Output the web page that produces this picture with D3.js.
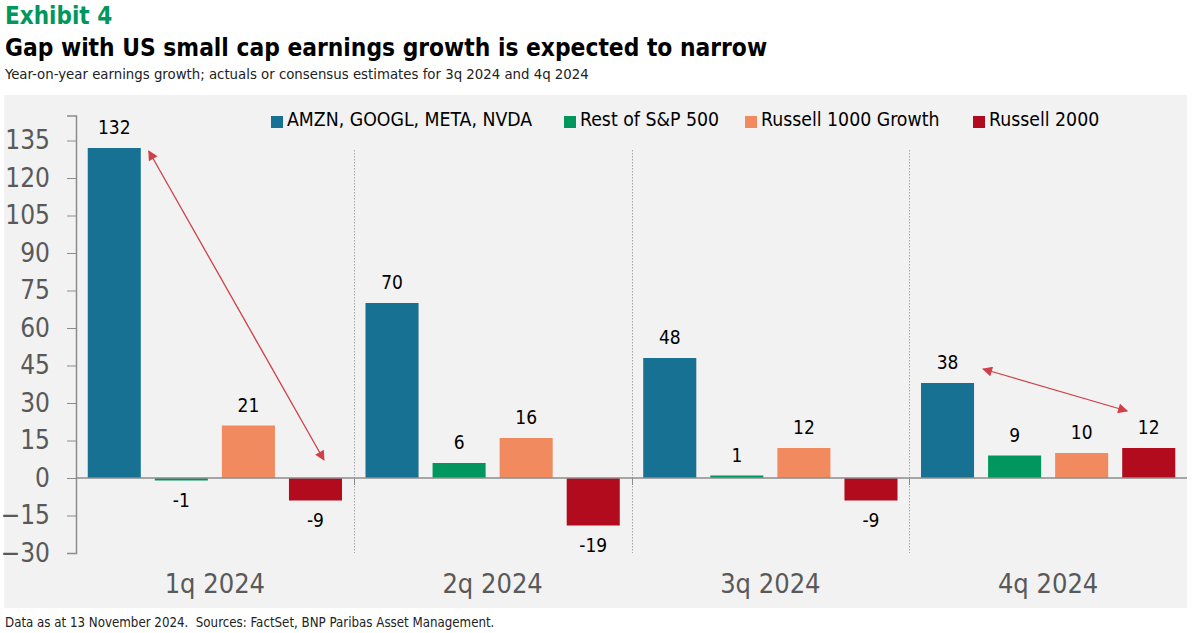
<!DOCTYPE html>
<html>
<head>
<meta charset="utf-8">
<script src="https://cdn.jsdelivr.net/npm/d3@7"></script>
<style>
  body { margin: 0; background: #fff; }
  svg text { font-family: "Liberation Sans Narrow", "DejaVu Sans Condensed", "Roboto", sans-serif; }
</style>
</head>
<body>
<script>
// chart data
var quarters = ['1q 2024', '2q 2024', '3q 2024', '4q 2024'];
var seriesNames = ['AMZN, GOOGL, META, NVDA', 'Rest of S&P 500', 'Russell 1000 Growth', 'Russell 2000'];
var seriesColors = ['#177192', '#00975f', '#f18a5e', '#b20b1d'];
var bigFour = [132, 70, 48, 38];
var restSP = [-1, 6, 1, 9];
var r1000g = [21, 16, 12, 10];
var r2000 = [-9, -19, -9, 12];
var yTicks = [-30, -15, 0, 15, 30, 45, 60, 75, 90, 105, 120, 135];

var allSeries = [bigFour, restSP, r1000g, r2000];

var width = 1194, height = 633;

var svg = d3.select('body').append('svg')
	.attr('width', width)
	.attr('height', height);

/*
/	HEADER
/*/
svg.append('text')
	.attr('x', 5).attr('y', 24)
	.attr('font-size', '24px').attr('font-weight', '700')
	.attr('fill', '#00965e')
	.text('Exhibit 4');

svg.append('text')
	.attr('x', 5).attr('y', 56)
	.attr('font-size', '24.3px').attr('font-weight', '700')
	.attr('fill', '#000')
	.text('Gap with US small cap earnings growth is expected to narrow');

svg.append('text')
	.attr('x', 5).attr('y', 79)
	.attr('font-size', '14.8px')
	.attr('fill', '#222')
	.text('Year-on-year earnings growth; actuals or consensus estimates for 3q 2024 and 4q 2024');

// grey panel
svg.append('rect')
	.attr('x', 4).attr('y', 95)
	.attr('width', 1183).attr('height', 513)
	.style('fill', '#f2f2f2');

svg.append('text')
	.attr('x', 5).attr('y', 627)
	.attr('font-size', '13.2px')
	.attr('fill', '#222')
	.style('white-space', 'pre')
	.text('Data as at 13 November 2024.  Sources: FactSet, BNP Paribas Asset Management.');

/*
/	SCALES
/*/
var plotLeft = 76, plotRight = 1187;

var x0 = d3.scaleBand()
	.domain(quarters)
	.range([plotLeft, plotRight])
	.padding(0);

var x1 = d3.scaleBand()
	.domain(d3.range(seriesNames.length))
	.range([0, x0.bandwidth()])
	.paddingInner(0.209)
	.paddingOuter(0.175);

var y = d3.scaleLinear()
	.domain([-30, 145])
	.range([553, 115.5]);

var chart = svg.append('g');

// dotted quarter separators
chart.selectAll('line.sep')
	.data(quarters.slice(1))
	.enter().append('line')
	.attr('class', 'sep')
	.attr('x1', function(d){ return Math.round(x0(d)) + 0.5; })
	.attr('x2', function(d){ return Math.round(x0(d)) + 0.5; })
	.attr('y1', 150)
	.attr('y2', y(-30))
	.attr('stroke', '#a6a6a6')
	.attr('stroke-width', 1)
	.attr('stroke-dasharray', '1.5,1.5');

/*
/	BARS
/*/
var groups = chart.selectAll('g.quarter')
	.data(quarters)
	.enter().append('g')
	.attr('class', 'quarter')
	.attr('transform', function(d){ return 'translate(' + x0(d) + ',0)'; });

groups.each(function(q, qi){
	var g = d3.select(this);
	var vals = allSeries.map(function(s){ return s[qi]; });

	g.selectAll('rect')
		.data(vals)
		.enter().append('rect')
		.attr('x', function(d, i){ return x1(i); })
		.attr('y', function(d){ return y(Math.max(0, d)); })
		.attr('width', x1.bandwidth())
		.attr('height', function(d){ return Math.abs(y(d) - y(0)); })
		.style('fill', function(d, i){ return seriesColors[i]; });

	g.selectAll('text')
		.data(vals)
		.enter().append('text')
		.attr('x', function(d, i){ return x1(i) + x1.bandwidth() / 2; })
		.attr('y', function(d){ return d >= 0 ? y(d) - 14 : y(d) + 26; })
		.attr('text-anchor', 'middle')
		.attr('font-size', '19px')
		.attr('fill', '#000')
		.text(function(d){ return d; });
});

// zero line + separator ticks
chart.append('line')
	.attr('x1', plotLeft).attr('x2', plotRight)
	.attr('y1', y(0)).attr('y2', y(0))
	.attr('stroke', '#8c8c8c').attr('stroke-width', 1.5);

chart.selectAll('line.xtick')
	.data(quarters.slice(1))
	.enter().append('line')
	.attr('class', 'xtick')
	.attr('x1', function(d){ return Math.round(x0(d)) + 0.5; })
	.attr('x2', function(d){ return Math.round(x0(d)) + 0.5; })
	.attr('y1', y(0)).attr('y2', y(0) + 7)
	.attr('stroke', '#8c8c8c').attr('stroke-width', 1);

// category labels
chart.selectAll('text.cat')
	.data(quarters)
	.enter().append('text')
	.attr('class', 'cat')
	.attr('x', function(d){ return x0(d) + x0.bandwidth() / 2; })
	.attr('y', 593)
	.attr('text-anchor', 'middle')
	.attr('font-size', '27px')
	.attr('fill', '#595959')
	.text(function(d){ return d; });

/*
/	Y AXIS
/*/
var yAxis = d3.axisLeft(y)
	.tickValues(yTicks)
	.tickSize(9)
	.tickPadding(17)
	.tickFormat(d3.format('d'));

var yAxisG = chart.append('g')
	.attr('transform', 'translate(' + plotLeft + ',0)')
	.call(yAxis);

yAxisG.select('.domain').attr('stroke', '#8c8c8c').attr('stroke-width', 1.5);
yAxisG.selectAll('.tick line').attr('stroke', '#8c8c8c');
yAxisG.selectAll('.tick text')
	.attr('font-size', '26px')
	.attr('font-family', null)
	.attr('fill', '#595959');

/*
/	LEGEND
/*/
var legendX = [271, 564, 745, 973];
var legend = svg.append('g');
seriesNames.forEach(function(name, i){
	legend.append('rect')
		.attr('x', legendX[i]).attr('y', 116)
		.attr('width', 12).attr('height', 12)
		.style('fill', seriesColors[i]);
	legend.append('text')
		.attr('x', legendX[i] + 16).attr('y', 126)
		.attr('font-size', '19.3px')
		.attr('fill', '#000')
		.text(name);
});

/*
/	ARROWS
/*/
var arrowColor = '#cf4148';
var defs = svg.append('defs');
defs.append('marker')
	.attr('id', 'head')
	.attr('viewBox', '0 0 10 10')
	.attr('refX', 9).attr('refY', 5)
	.attr('markerWidth', 12).attr('markerHeight', 10)
	.attr('markerUnits', 'userSpaceOnUse')
	.attr('orient', 'auto-start-reverse')
	.append('path')
	.attr('d', 'M0,0 L10,5 L0,10 Z')
	.style('fill', arrowColor);

// arrow 1: from top of 1q big-four bar down to 1q Russell 2000
var a1 = [x0(quarters[0]) + x1(0) + x1.bandwidth() + 8, y(bigFour[0]) + 3,
          x0(quarters[0]) + x1(3) + 35, y(0) - 18];
// arrow 2: 4q big-four label across to 4q Russell 2000 label
var a2 = [x0(quarters[3]) + x1(0) + x1.bandwidth() + 9, y(bigFour[3]) - 14,
          x0(quarters[3]) + x1(3) + 5, y(r2000[3]) - 37];

[a1, a2].forEach(function(a){
	svg.append('line')
		.attr('x1', a[0]).attr('y1', a[1])
		.attr('x2', a[2]).attr('y2', a[3])
		.attr('stroke', arrowColor)
		.attr('stroke-width', 1.3)
		.attr('marker-start', 'url(#head)')
		.attr('marker-end', 'url(#head)');
});
</script>
</body>
</html>
